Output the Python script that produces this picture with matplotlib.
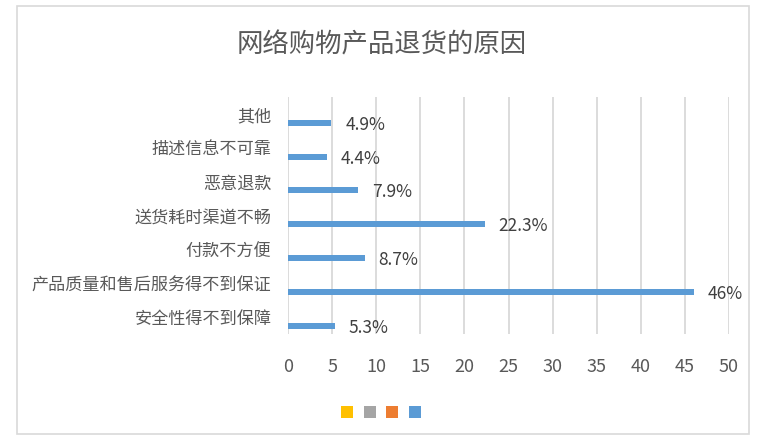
import matplotlib
matplotlib.use('Agg')
import matplotlib.pyplot as plt
from matplotlib.patches import Patch, Rectangle
from matplotlib import font_manager

categories = ['安全性得不到保障', '产品质量和售后服务得不到保证', '付款不方便',
              '送货耗时渠道不畅', '恶意退款', '描述信息不可靠', '其他']
values = [5.3, 46, 8.7, 22.3, 7.9, 4.4, 4.9]
value_labels = ['5.3%', '46%', '8.7%', '22.3%', '7.9%', '4.4%', '4.9%']
xticks = [0, 5, 10, 15, 20, 25, 30, 35, 40, 45, 50]
legend_colors = ['#ffc000', '#a5a5a5', '#ed7d31', '#5b9bd5']
title = '网络购物产品退货的原因'

names = {f.name for f in font_manager.fontManager.ttflist}
num_font = 'Liberation Sans Narrow' if 'Liberation Sans Narrow' in names else 'Noto Sans CJK SC'
plt.rcParams['font.family'] = ['Noto Sans CJK SC', 'DejaVu Sans']

W, H = 758, 443
fig = plt.figure(figsize=(W/100, H/100), dpi=100)
ax = fig.add_axes([288/W, 1-334/H, (729-288)/W, (334-97)/H])

ypos = list(range(len(categories)))
# only the last of four series has data, so the bar sits low in each slot
bar_y = [y - 0.26 for y in ypos]
ax.barh(bar_y, values, height=0.18, color='#5b9bd5', zorder=3)
for y, v, s in zip(bar_y, values, value_labels):
    ax.annotate(s, (v, y), xytext=(14, -2), textcoords='offset pixels',
                va='center', ha='left', fontsize=12.5, color='#404040',
                family=num_font)

ax.set_xlim(0, 50)
ax.set_ylim(-0.5, 6.5)
ax.set_xticks(xticks)
ax.set_xticklabels([str(t) for t in xticks], family=num_font, fontsize=13, color='#595959')
ax.set_yticks(ypos)
ax.set_yticklabels(categories, fontsize=12.3, color='#595959')
ax.tick_params(axis='x', length=0, pad=17)
ax.tick_params(axis='y', length=0, pad=12)
ax.grid(axis='x', color='#d9d9d9', linewidth=1.3, zorder=0)
for sp in ax.spines.values():
    sp.set_visible(False)

fig.text(382/W, 1-45/H, title, ha='center', va='center', fontsize=19, color='#595959')

handles = [Patch(facecolor=c, edgecolor='none') for c in legend_colors]
fig.legend(handles, ['']*4, ncol=4, loc='center', bbox_to_anchor=(381/W, 1-413/H),
           frameon=False, fontsize=10, handlelength=0.85, handleheight=1.0,
           handletextpad=0, columnspacing=0.78, borderpad=0)

fig.patches.append(Rectangle((17/W, 1-434/H), (749-17)/W, (434-6)/H,
                             transform=fig.transFigure, fill=False,
                             edgecolor='#d9d9d9', linewidth=1.2))

fig.savefig('out.png', dpi=100)
